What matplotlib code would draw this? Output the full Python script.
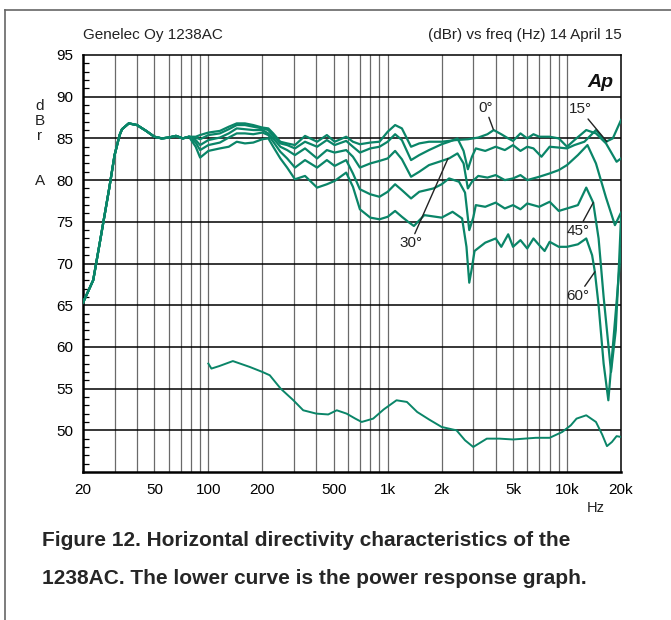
import matplotlib
matplotlib.use("Agg")
import matplotlib.pyplot as plt
from matplotlib.lines import Line2D

# -----------------------------------------
# Data
# -----------------------------------------
# common low-frequency part (all angles coincide below ~80 Hz)
LF_FREQ = [20, 22.8, 25, 28, 30, 32, 33, 36, 40, 45, 50, 55, 60, 66, 72, 78]
LF_DB = [65.3, 68.0, 72.9, 79.0, 83.0, 85.4, 86.1, 86.8, 86.6, 85.9, 85.2,
         85.0, 85.1, 85.3, 85.0, 85.2]

F0 = [85, 90, 100, 116, 130, 144, 160, 178, 200, 216, 230, 252, 275, 304, 346,
      404, 458, 506, 587, 640, 700, 800, 900, 1000, 1100, 1200, 1350, 1500,
      1700, 2000, 2400, 2800, 3200, 3600, 3900, 4300, 4700, 5000, 5500, 6000,
      6500, 7000, 8000, 9000, 10000, 11000, 12800, 14500, 16500, 18900, 20000]
DB0 = [85.2, 85.4, 85.7, 85.9, 86.4, 86.8, 86.8, 86.6, 86.3, 86.2, 85.6, 84.6,
       84.4, 84.2, 85.3, 84.6, 85.4, 84.6, 85.2, 84.6, 84.3, 84.5, 84.6, 85.8,
       86.6, 86.2, 84.0, 84.4, 84.6, 84.6, 84.8, 84.9, 85.1, 85.5, 86.0, 85.5,
       85.0, 84.7, 85.6, 85.0, 85.5, 85.2, 85.2, 85.0, 84.0, 84.8, 86.0, 85.6,
       84.4, 82.2, 82.6]

F15 = [85, 90, 100, 116, 130, 144, 160, 178, 200, 216, 230, 252, 275, 304, 346,
       404, 458, 506, 587, 640, 700, 800, 900, 1000, 1100, 1200, 1350, 1500,
       1700, 2000, 2200, 2450, 2650, 2800, 2950, 3100, 3500, 4000, 4500, 5000,
       5500, 6000, 6500, 7200, 8000, 9000, 10000, 11000, 12500, 14500, 16500,
       18000, 20000]
DB15 = [85.1, 84.9, 85.4, 85.6, 86.1, 86.6, 86.6, 86.4, 86.2, 86.0, 85.3, 84.4,
        84.2, 83.8, 84.6, 84.0, 84.8, 84.2, 84.7, 84.0, 83.3, 83.8, 84.0, 84.6,
        85.5, 84.8, 82.4, 83.0, 83.6, 84.3, 84.6, 85.0, 83.5, 81.3, 82.8, 83.8,
        83.5, 84.0, 83.6, 84.2, 83.5, 84.0, 83.8, 82.8, 84.0, 83.9, 83.8, 84.2,
        84.6, 86.0, 84.6, 85.0, 87.2]

F30 = [85, 90, 100, 116, 130, 144, 160, 178, 200, 216, 230, 252, 275, 304, 346,
       404, 458, 506, 587, 640, 700, 800, 900, 1000, 1100, 1200, 1350, 1500,
       1700, 2000, 2200, 2450, 2650, 2800, 2950, 3200, 3600, 4000, 4500, 5000,
       5500, 6000, 7000, 8000, 9000, 10000, 11500, 13000, 14500, 16500, 18500,
       20000]
DB30 = [84.8, 84.2, 84.8, 85.1, 85.6, 86.2, 86.1, 86.0, 86.0, 85.6, 85.0, 84.0,
        83.6, 83.0, 83.8, 82.6, 83.6, 83.3, 83.6, 82.8, 81.5, 82.0, 82.3, 82.6,
        83.5, 82.5, 80.4, 81.0, 81.8, 82.3, 82.6, 83.2, 82.0, 79.0, 79.8, 80.5,
        80.3, 80.6, 80.0, 80.2, 80.6, 80.0, 80.4, 80.8, 81.2, 81.8, 83.0, 84.2,
        82.0, 77.9, 74.6, 76.1]

F45 = [85, 90, 100, 116, 130, 144, 160, 178, 200, 216, 230, 252, 275, 304, 346,
       404, 458, 506, 587, 640, 700, 800, 900, 1000, 1100, 1200, 1350, 1500,
       1800, 2000, 2200, 2500, 2700, 2850, 3000, 3100, 3500, 4000, 4500, 5000,
       5500, 6000, 7000, 8000, 9000, 10000, 11500, 12800, 14000, 15000, 16000,
       17600, 18700, 19500, 20000]
DB45 = [84.5, 83.6, 84.2, 84.5, 85.1, 85.6, 85.6, 85.5, 85.7, 85.4, 84.6, 83.4,
        82.6, 81.5, 82.4, 81.5, 82.4, 81.7, 82.4, 80.8, 78.9, 78.3, 78.0, 78.6,
        79.5, 78.8, 77.8, 78.6, 79.0, 79.5, 80.2, 79.8, 78.5, 74.0, 75.5, 77.0,
        76.8, 77.3, 76.6, 77.0, 76.5, 77.2, 76.8, 77.4, 76.3, 76.6, 77.0, 79.1,
        77.3, 73.0, 66.0, 57.0, 62.0, 70.0, 75.5]

F60 = [85, 90, 100, 116, 130, 144, 160, 178, 200, 216, 230, 252, 275, 304, 346,
       404, 458, 506, 587, 640, 700, 800, 900, 1000, 1100, 1200, 1300, 1400,
       1600, 2000, 2300, 2600, 2750, 2850, 2950, 3050, 3500, 4000, 4300, 4700,
       5000, 5500, 6000, 6500, 7000, 7500, 8000, 9000, 10000, 11500, 12800,
       13800, 14300, 15000, 16000, 17000, 18000, 19000, 20000]
DB60 = [84.0, 82.7, 83.5, 83.8, 84.0, 84.6, 84.4, 84.5, 84.9, 85.0, 84.0, 82.6,
        81.5, 80.1, 80.5, 79.1, 79.5, 79.9, 80.9, 79.2, 76.5, 75.5, 75.3, 75.6,
        76.3, 75.6, 75.0, 74.5, 75.8, 75.5, 76.2, 75.4, 72.0, 67.7, 69.5, 71.5,
        72.5, 73.0, 72.0, 73.5, 72.0, 72.8, 71.8, 73.0, 72.2, 71.5, 72.6, 72.0,
        72.0, 72.3, 73.0, 71.0, 69.0, 65.0, 58.0, 53.6, 60.0, 66.0, 71.8]

# power response (lower curve)
FP = [100, 104, 115, 137, 170, 200, 220, 253, 298, 338, 400, 466, 520, 590,
      660, 716, 830, 950, 1120, 1280, 1460, 1700, 2000, 2300, 2420, 2700, 3000,
      3570, 4200, 5000, 6700, 8000, 9400, 10500, 11300, 12800, 14500, 15700,
      16700, 17800, 18900, 20000]
DBP = [58.0, 57.4, 57.7, 58.3, 57.6, 57.0, 56.6, 55.0, 53.6, 52.4, 52.0, 51.9,
       52.4, 52.0, 51.4, 51.0, 51.4, 52.5, 53.6, 53.4, 52.2, 51.3, 50.4, 50.1,
       50.0, 48.8, 48.0, 49.0, 49.0, 48.9, 49.1, 49.1, 49.8, 50.6, 51.4, 51.8,
       51.0, 49.5, 48.1, 48.6, 49.3, 49.2]

X_TICKS = [20, 50, 100, 200, 500, 1000, 2000, 5000, 10000, 20000]
X_LABELS = ["20", "50", "100", "200", "500", "1k", "2k", "5k", "10k", "20k"]
Y_TICKS = [50, 55, 60, 65, 70, 75, 80, 85, 90, 95]

GREEN = "#0a8568"
FONT = "Liberation Sans"
W, H = 671, 620

plt.rcParams["font.family"] = FONT


def fx(x):
    return x / W


def fy(y):
    return 1 - y / H


fig = plt.figure(figsize=(W / 100, H / 100), dpi=100)
ax = fig.add_axes([fx(83), fy(472), (621 - 83) / W, (472 - 55) / H])
ax.set_xscale("log")
ax.set_xlim(20, 20000)
ax.set_ylim(45, 95)

# grid
for dec in [10, 100, 1000, 10000]:
    for m in range(1, 10):
        f = dec * m
        if 20 < f < 20000:
            ax.axvline(f, color="#6a6a6a", lw=0.9, zorder=1)
for v in range(50, 95, 5):
    ax.axhline(v, color="black", lw=1.1, zorder=1)

for s in ["left", "bottom"]:
    ax.spines[s].set_linewidth(1.8)
for s in ["top", "right"]:
    ax.spines[s].set_linewidth(1.1)

ax.set_xticks(X_TICKS)
ax.set_xticklabels(X_LABELS)
ax.xaxis.set_minor_locator(matplotlib.ticker.NullLocator())
ax.set_yticks(Y_TICKS)
ax.set_yticks(range(46, 95), minor=True)
ax.tick_params(axis="x", which="both", length=0, pad=8, labelsize=11)
ax.tick_params(axis="y", which="major", length=0, pad=7, labelsize=11)
ax.tick_params(axis="y", which="minor", direction="in", length=4, width=0.9)

# curves
for f, d in [(F0, DB0), (F15, DB15), (F30, DB30), (F45, DB45), (F60, DB60)]:
    ax.plot(LF_FREQ + f, LF_DB + d, color=GREEN, lw=1.6, zorder=3,
            solid_joinstyle="round")
ax.plot(FP, DBP, color=GREEN, lw=1.4, zorder=3, solid_joinstyle="round")

# angle labels
ap = dict(arrowstyle="-", color="#222222", lw=1.0, shrinkA=0, shrinkB=0)
for txt, xyt, xy in [("0°", (3500, 88.7), (3880, 86.1)),
                     ("15°", (11800, 88.5), (16700, 84.6)),
                     ("30°", (1340, 72.4), (2170, 82.6)),
                     ("45°", (11500, 73.9), (14000, 77.3)),
                     ("60°", (11500, 66.1), (14300, 69.0))]:
    ax.annotate(txt, xy=xy, xytext=xyt, ha="center", va="center",
                fontsize=11, color="#222222", arrowprops=ap, zorder=4)

ax.text(0.985, 0.935, "Ap", transform=ax.transAxes, ha="right", va="center",
        fontsize=14, fontweight="bold", style="italic", color="#111111")

# header / axis titles
fig.text(fx(83), fy(35), "Genelec Oy 1238AC", ha="left", va="center",
         fontsize=11, color="#222222")
fig.text(fx(622), fy(35), "(dBr) vs freq (Hz) 14 April 15", ha="right",
         va="center", fontsize=11, color="#222222")
for ch, yy in [("d", 106), ("B", 121), ("r", 136), ("A", 181)]:
    fig.text(fx(40), fy(yy), ch, ha="center", va="center", fontsize=11,
             color="#222222")
fig.text(fx(596), fy(508), "Hz", ha="center", va="center", fontsize=10.5,
         color="#222222")

# caption
fig.text(fx(42), fy(540), "Figure 12. Horizontal directivity characteristics of the",
         ha="left", va="center", fontsize=15, fontweight="bold", color="#262626")
fig.text(fx(42), fy(578), "1238AC. The lower curve is the power response graph.",
         ha="left", va="center", fontsize=15, fontweight="bold", color="#262626")

# outer frame
fig.add_artist(Line2D([fx(5), fx(5)], [fy(10), 0], color="#666666", lw=1.2))
fig.add_artist(Line2D([fx(5), 1], [fy(10), fy(10)], color="#666666", lw=1.2))

fig.savefig("out.png", dpi=100)
